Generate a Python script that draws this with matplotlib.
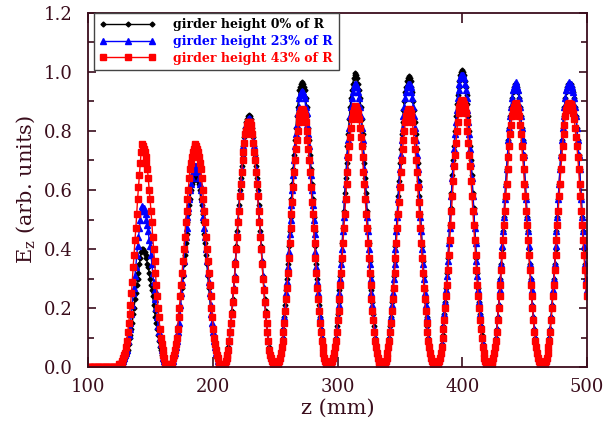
import numpy as np
import matplotlib
matplotlib.use("Agg")
import matplotlib.pyplot as plt
from matplotlib.ticker import MultipleLocator, FormatStrFormatter

# Ez along the structure for three girder heights (fraction of R)
ez_0pct = [
    0.0, 0.0, 0.0, 0.0, 0.0, 0.0, 0.0, 0.0, 0.0, 0.0, 0.0, 0.0, 0.0, 0.0, 0.0, 0.0,
    0.0, 0.0, 0.0, 0.0, 0.0, 0.0, 0.0, 0.0, 0.0, 0.0, 0.0, 0.0, 0.0, 0.0, 0.0, 0.0,
    # cell 1
    0.00, 0.00, 0.01, 0.01, 0.01, 0.01, 0.01, 0.02, 0.02, 0.03, 0.04, 0.05, 0.06, 0.08, 0.10, 0.11, 0.13, 0.15, 0.18, 0.20, 0.23, 0.25, 0.28, 0.30, 0.32, 0.35, 0.37, 0.39, 0.40,
    0.40, 0.39, 0.39, 0.38, 0.37, 0.35, 0.34, 0.32, 0.30, 0.28, 0.26, 0.24, 0.21, 0.19, 0.17, 0.15, 0.13, 0.11, 0.09, 0.07, 0.06, 0.04, 0.03, 0.02, 0.01, 0.01, 0.00, 0.00, 0.00, 0.00,
    # cell 2
    0.00, 0.00, 0.01, 0.01, 0.02, 0.03, 0.05, 0.07, 0.09, 0.11, 0.14, 0.17, 0.20, 0.24, 0.27, 0.31, 0.35, 0.38, 0.42, 0.45, 0.49, 0.52, 0.55, 0.57, 0.60, 0.62, 0.63, 0.64, 0.65, 0.65,
    0.65, 0.64, 0.63, 0.62, 0.60, 0.57, 0.55, 0.52, 0.49, 0.45, 0.42, 0.38, 0.35, 0.31, 0.27, 0.24, 0.20, 0.17, 0.14, 0.11, 0.09, 0.07, 0.05, 0.03, 0.02, 0.01, 0.01, 0.00, 0.00, 0.00,
    # cell 3
    0.00, 0.00, 0.01, 0.02, 0.03, 0.05, 0.07, 0.09, 0.12, 0.15, 0.19, 0.23, 0.27, 0.31, 0.36, 0.41, 0.46, 0.50, 0.55, 0.60, 0.64, 0.68, 0.72, 0.75, 0.78, 0.81, 0.83, 0.84, 0.85, 0.855,
    0.85, 0.84, 0.83, 0.81, 0.78, 0.75, 0.72, 0.68, 0.64, 0.60, 0.55, 0.50, 0.46, 0.41, 0.36, 0.31, 0.27, 0.23, 0.19, 0.15, 0.12, 0.09, 0.07, 0.05, 0.03, 0.02, 0.01, 0.00, 0.00, 0.00,
    # cell 4
    0.00, 0.00, 0.01, 0.02, 0.03, 0.05, 0.07, 0.10, 0.13, 0.17, 0.21, 0.26, 0.30, 0.35, 0.41, 0.46, 0.51, 0.57, 0.62, 0.67, 0.72, 0.77, 0.81, 0.85, 0.88, 0.91, 0.94, 0.95, 0.96, 0.965,
    0.96, 0.95, 0.94, 0.91, 0.88, 0.85, 0.81, 0.77, 0.72, 0.67, 0.62, 0.57, 0.51, 0.46, 0.41, 0.35, 0.30, 0.26, 0.21, 0.17, 0.13, 0.10, 0.07, 0.05, 0.03, 0.02, 0.01, 0.00, 0.00, 0.00,
    # cell 5
    0.00, 0.00, 0.01, 0.02, 0.03, 0.05, 0.08, 0.10, 0.14, 0.18, 0.22, 0.26, 0.31, 0.36, 0.42, 0.47, 0.53, 0.59, 0.64, 0.69, 0.75, 0.79, 0.84, 0.88, 0.91, 0.94, 0.96, 0.98, 0.99, 0.995,
    0.99, 0.98, 0.96, 0.94, 0.91, 0.88, 0.84, 0.79, 0.75, 0.69, 0.64, 0.59, 0.53, 0.47, 0.42, 0.36, 0.31, 0.26, 0.22, 0.18, 0.14, 0.10, 0.08, 0.05, 0.03, 0.02, 0.01, 0.00, 0.00, 0.00,
    # cell 6
    0.00, 0.00, 0.01, 0.02, 0.03, 0.05, 0.08, 0.10, 0.14, 0.17, 0.22, 0.26, 0.31, 0.36, 0.41, 0.47, 0.52, 0.58, 0.63, 0.69, 0.74, 0.79, 0.83, 0.87, 0.90, 0.93, 0.95, 0.97, 0.98, 0.985,
    0.98, 0.97, 0.95, 0.93, 0.90, 0.87, 0.83, 0.79, 0.74, 0.69, 0.63, 0.58, 0.52, 0.47, 0.41, 0.36, 0.31, 0.26, 0.22, 0.17, 0.14, 0.10, 0.08, 0.05, 0.03, 0.02, 0.01, 0.00, 0.00, 0.00,
    # cell 7
    0.00, 0.00, 0.01, 0.02, 0.03, 0.05, 0.08, 0.11, 0.14, 0.18, 0.22, 0.27, 0.32, 0.37, 0.42, 0.48, 0.54, 0.59, 0.65, 0.70, 0.75, 0.80, 0.85, 0.89, 0.92, 0.95, 0.97, 0.99, 1.00, 1.005,
    1.00, 0.99, 0.97, 0.95, 0.92, 0.89, 0.85, 0.80, 0.75, 0.70, 0.65, 0.59, 0.54, 0.48, 0.42, 0.37, 0.32, 0.27, 0.22, 0.18, 0.14, 0.11, 0.08, 0.05, 0.03, 0.02, 0.01, 0.00, 0.00, 0.00,
    # cell 8
    0.00, 0.00, 0.01, 0.02, 0.03, 0.05, 0.07, 0.10, 0.13, 0.17, 0.21, 0.25, 0.30, 0.35, 0.40, 0.46, 0.51, 0.57, 0.62, 0.67, 0.72, 0.77, 0.81, 0.85, 0.88, 0.91, 0.93, 0.95, 0.96, 0.96,
    0.96, 0.95, 0.93, 0.91, 0.88, 0.85, 0.81, 0.77, 0.72, 0.67, 0.62, 0.57, 0.51, 0.46, 0.40, 0.35, 0.30, 0.25, 0.21, 0.17, 0.13, 0.10, 0.07, 0.05, 0.03, 0.02, 0.01, 0.00, 0.00, 0.00,
    # cell 9 (cut at z = 500)
    0.00, 0.00, 0.01, 0.02, 0.03, 0.05, 0.07, 0.10, 0.13, 0.17, 0.21, 0.25, 0.30, 0.35, 0.40, 0.46, 0.51, 0.57, 0.62, 0.67, 0.72, 0.77, 0.81, 0.85, 0.88, 0.91, 0.93, 0.95, 0.96, 0.96,
    0.96, 0.96, 0.95, 0.94, 0.93, 0.91, 0.88, 0.85, 0.81, 0.77, 0.72, 0.67, 0.62, 0.57, 0.51, 0.46, 0.40, 0.35, 0.30, 0.25,
]

ez_23pct = [
    0.0, 0.0, 0.0, 0.0, 0.0, 0.0, 0.0, 0.0, 0.0, 0.0, 0.0, 0.0, 0.0, 0.0, 0.0, 0.0,
    0.0, 0.0, 0.0, 0.0, 0.0, 0.0, 0.0, 0.0, 0.0, 0.0, 0.0, 0.0, 0.0, 0.0, 0.0, 0.0,
    # cell 1
    0.00, 0.00, 0.01, 0.01, 0.01, 0.01, 0.01, 0.02, 0.03, 0.04, 0.05, 0.06, 0.09, 0.11, 0.13, 0.15, 0.18, 0.21, 0.25, 0.27, 0.31, 0.34, 0.38, 0.41, 0.44, 0.47, 0.50, 0.53, 0.545,
    0.54, 0.54, 0.53, 0.52, 0.50, 0.48, 0.46, 0.43, 0.41, 0.38, 0.35, 0.32, 0.29, 0.26, 0.23, 0.20, 0.17, 0.14, 0.12, 0.10, 0.08, 0.06, 0.04, 0.03, 0.02, 0.01, 0.01, 0.00, 0.00, 0.00,
    # cell 2
    0.00, 0.00, 0.01, 0.01, 0.02, 0.04, 0.05, 0.07, 0.09, 0.12, 0.15, 0.18, 0.21, 0.25, 0.29, 0.32, 0.36, 0.40, 0.44, 0.47, 0.51, 0.54, 0.57, 0.60, 0.62, 0.64, 0.66, 0.67, 0.68, 0.68,
    0.68, 0.67, 0.66, 0.64, 0.62, 0.60, 0.57, 0.54, 0.51, 0.47, 0.44, 0.40, 0.36, 0.32, 0.29, 0.25, 0.21, 0.18, 0.15, 0.12, 0.09, 0.07, 0.05, 0.04, 0.02, 0.01, 0.01, 0.00, 0.00, 0.00,
    # cell 3
    0.00, 0.00, 0.01, 0.02, 0.03, 0.04, 0.06, 0.09, 0.12, 0.15, 0.18, 0.22, 0.27, 0.31, 0.36, 0.40, 0.45, 0.50, 0.54, 0.59, 0.63, 0.67, 0.71, 0.75, 0.77, 0.80, 0.82, 0.83, 0.84, 0.845,
    0.84, 0.83, 0.82, 0.80, 0.77, 0.75, 0.71, 0.67, 0.63, 0.59, 0.54, 0.50, 0.45, 0.40, 0.36, 0.31, 0.27, 0.22, 0.18, 0.15, 0.12, 0.09, 0.06, 0.04, 0.03, 0.02, 0.01, 0.00, 0.00, 0.00,
    # cell 4
    0.00, 0.00, 0.01, 0.02, 0.03, 0.05, 0.07, 0.10, 0.13, 0.17, 0.20, 0.25, 0.29, 0.34, 0.39, 0.45, 0.50, 0.55, 0.60, 0.65, 0.70, 0.75, 0.79, 0.82, 0.86, 0.88, 0.91, 0.92, 0.93, 0.935,
    0.93, 0.92, 0.91, 0.88, 0.86, 0.82, 0.79, 0.75, 0.70, 0.65, 0.60, 0.55, 0.50, 0.45, 0.39, 0.34, 0.29, 0.25, 0.20, 0.17, 0.13, 0.10, 0.07, 0.05, 0.03, 0.02, 0.01, 0.00, 0.00, 0.00,
    # cell 5
    0.00, 0.00, 0.01, 0.02, 0.03, 0.05, 0.07, 0.10, 0.13, 0.17, 0.21, 0.25, 0.30, 0.35, 0.40, 0.46, 0.51, 0.57, 0.62, 0.67, 0.72, 0.77, 0.81, 0.85, 0.88, 0.91, 0.93, 0.95, 0.96, 0.96,
    0.96, 0.95, 0.93, 0.91, 0.88, 0.85, 0.81, 0.77, 0.72, 0.67, 0.62, 0.57, 0.51, 0.46, 0.40, 0.35, 0.30, 0.25, 0.21, 0.17, 0.13, 0.10, 0.07, 0.05, 0.03, 0.02, 0.01, 0.00, 0.00, 0.00,
    # cell 6
    0.00, 0.00, 0.01, 0.02, 0.03, 0.05, 0.07, 0.10, 0.13, 0.17, 0.21, 0.25, 0.30, 0.35, 0.40, 0.46, 0.51, 0.57, 0.62, 0.67, 0.72, 0.77, 0.81, 0.85, 0.88, 0.91, 0.93, 0.95, 0.96, 0.96,
    0.96, 0.95, 0.93, 0.91, 0.88, 0.85, 0.81, 0.77, 0.72, 0.67, 0.62, 0.57, 0.51, 0.46, 0.40, 0.35, 0.30, 0.25, 0.21, 0.17, 0.13, 0.10, 0.07, 0.05, 0.03, 0.02, 0.01, 0.00, 0.00, 0.00,
    # cell 7
    0.00, 0.00, 0.01, 0.02, 0.03, 0.05, 0.08, 0.10, 0.14, 0.18, 0.22, 0.26, 0.31, 0.36, 0.42, 0.47, 0.53, 0.58, 0.64, 0.69, 0.74, 0.79, 0.83, 0.87, 0.91, 0.94, 0.96, 0.98, 0.99, 0.99,
    0.99, 0.98, 0.96, 0.94, 0.91, 0.87, 0.83, 0.79, 0.74, 0.69, 0.64, 0.58, 0.53, 0.47, 0.42, 0.36, 0.31, 0.26, 0.22, 0.18, 0.14, 0.10, 0.08, 0.05, 0.03, 0.02, 0.01, 0.00, 0.00, 0.00,
    # cell 8
    0.00, 0.00, 0.01, 0.02, 0.03, 0.05, 0.07, 0.10, 0.13, 0.17, 0.21, 0.26, 0.30, 0.35, 0.41, 0.46, 0.51, 0.57, 0.62, 0.67, 0.72, 0.77, 0.81, 0.85, 0.88, 0.91, 0.94, 0.95, 0.96, 0.965,
    0.96, 0.95, 0.94, 0.91, 0.88, 0.85, 0.81, 0.77, 0.72, 0.67, 0.62, 0.57, 0.51, 0.46, 0.41, 0.35, 0.30, 0.26, 0.21, 0.17, 0.13, 0.10, 0.07, 0.05, 0.03, 0.02, 0.01, 0.00, 0.00, 0.00,
    # cell 9 (cut at z = 500)
    0.00, 0.00, 0.01, 0.02, 0.03, 0.05, 0.07, 0.10, 0.13, 0.17, 0.21, 0.26, 0.30, 0.35, 0.41, 0.46, 0.51, 0.57, 0.62, 0.67, 0.72, 0.77, 0.81, 0.85, 0.88, 0.91, 0.94, 0.95, 0.96, 0.965,
    0.96, 0.96, 0.95, 0.94, 0.93, 0.91, 0.88, 0.85, 0.81, 0.77, 0.72, 0.67, 0.62, 0.57, 0.51, 0.46, 0.41, 0.35, 0.30, 0.26,
]

ez_43pct = [
    0.0, 0.0, 0.0, 0.0, 0.0, 0.0, 0.0, 0.0, 0.0, 0.0, 0.0, 0.0, 0.0, 0.0, 0.0, 0.0,
    0.0, 0.0, 0.0, 0.0, 0.0, 0.0, 0.0, 0.0, 0.0, 0.0, 0.0, 0.0, 0.0, 0.0, 0.0, 0.0,
    # cell 1
    0.00, 0.00, 0.01, 0.01, 0.01, 0.01, 0.02, 0.03, 0.04, 0.05, 0.07, 0.09, 0.12, 0.15, 0.18, 0.21, 0.25, 0.29, 0.34, 0.38, 0.43, 0.47, 0.52, 0.57, 0.61, 0.65, 0.69, 0.73, 0.755,
    0.75, 0.74, 0.73, 0.71, 0.69, 0.67, 0.64, 0.60, 0.57, 0.53, 0.49, 0.44, 0.40, 0.36, 0.32, 0.28, 0.24, 0.20, 0.17, 0.13, 0.10, 0.08, 0.06, 0.04, 0.03, 0.01, 0.01, 0.00, 0.00, 0.00,
    # cell 2
    0.00, 0.00, 0.01, 0.01, 0.03, 0.04, 0.06, 0.08, 0.10, 0.13, 0.17, 0.20, 0.24, 0.28, 0.32, 0.36, 0.40, 0.44, 0.49, 0.53, 0.57, 0.60, 0.64, 0.67, 0.69, 0.71, 0.73, 0.74, 0.75, 0.755,
    0.75, 0.74, 0.73, 0.71, 0.69, 0.67, 0.64, 0.60, 0.57, 0.53, 0.49, 0.44, 0.40, 0.36, 0.32, 0.28, 0.24, 0.20, 0.17, 0.13, 0.10, 0.08, 0.06, 0.04, 0.03, 0.01, 0.01, 0.00, 0.00, 0.00,
    # cell 3
    0.00, 0.00, 0.01, 0.02, 0.03, 0.04, 0.06, 0.09, 0.12, 0.15, 0.18, 0.22, 0.26, 0.30, 0.35, 0.40, 0.44, 0.49, 0.53, 0.58, 0.62, 0.66, 0.70, 0.73, 0.76, 0.79, 0.80, 0.82, 0.83, 0.83,
    0.83, 0.82, 0.80, 0.79, 0.76, 0.73, 0.70, 0.66, 0.62, 0.58, 0.53, 0.49, 0.44, 0.40, 0.35, 0.30, 0.26, 0.22, 0.18, 0.15, 0.12, 0.09, 0.06, 0.04, 0.03, 0.02, 0.01, 0.00, 0.00, 0.00,
    # cell 4
    0.00, 0.00, 0.01, 0.02, 0.03, 0.05, 0.07, 0.09, 0.12, 0.15, 0.19, 0.23, 0.27, 0.32, 0.37, 0.42, 0.47, 0.52, 0.56, 0.61, 0.66, 0.70, 0.74, 0.77, 0.80, 0.83, 0.85, 0.86, 0.87, 0.875,
    0.87, 0.86, 0.85, 0.83, 0.80, 0.77, 0.74, 0.70, 0.66, 0.61, 0.56, 0.52, 0.47, 0.42, 0.37, 0.32, 0.27, 0.23, 0.19, 0.15, 0.12, 0.09, 0.07, 0.05, 0.03, 0.02, 0.01, 0.00, 0.00, 0.00,
    # cell 5
    0.00, 0.00, 0.01, 0.02, 0.03, 0.05, 0.07, 0.09, 0.12, 0.16, 0.19, 0.23, 0.28, 0.32, 0.37, 0.42, 0.47, 0.52, 0.57, 0.62, 0.66, 0.71, 0.75, 0.78, 0.81, 0.84, 0.86, 0.87, 0.88, 0.885,
    0.88, 0.87, 0.86, 0.84, 0.81, 0.78, 0.75, 0.71, 0.66, 0.62, 0.57, 0.52, 0.47, 0.42, 0.37, 0.32, 0.28, 0.23, 0.19, 0.16, 0.12, 0.09, 0.07, 0.05, 0.03, 0.02, 0.01, 0.00, 0.00, 0.00,
    # cell 6
    0.00, 0.00, 0.01, 0.02, 0.03, 0.05, 0.07, 0.09, 0.12, 0.15, 0.19, 0.23, 0.27, 0.32, 0.37, 0.42, 0.47, 0.52, 0.56, 0.61, 0.66, 0.70, 0.74, 0.77, 0.80, 0.83, 0.85, 0.86, 0.87, 0.875,
    0.87, 0.86, 0.85, 0.83, 0.80, 0.77, 0.74, 0.70, 0.66, 0.61, 0.56, 0.52, 0.47, 0.42, 0.37, 0.32, 0.27, 0.23, 0.19, 0.15, 0.12, 0.09, 0.07, 0.05, 0.03, 0.02, 0.01, 0.00, 0.00, 0.00,
    # cell 7
    0.00, 0.00, 0.01, 0.02, 0.03, 0.05, 0.07, 0.10, 0.13, 0.16, 0.20, 0.24, 0.28, 0.33, 0.38, 0.43, 0.48, 0.53, 0.58, 0.63, 0.68, 0.72, 0.76, 0.80, 0.83, 0.86, 0.88, 0.89, 0.90, 0.905,
    0.90, 0.89, 0.88, 0.86, 0.83, 0.80, 0.76, 0.72, 0.68, 0.63, 0.58, 0.53, 0.48, 0.43, 0.38, 0.33, 0.28, 0.24, 0.20, 0.16, 0.13, 0.10, 0.07, 0.05, 0.03, 0.02, 0.01, 0.00, 0.00, 0.00,
    # cell 8
    0.00, 0.00, 0.01, 0.02, 0.03, 0.05, 0.07, 0.09, 0.12, 0.16, 0.20, 0.24, 0.28, 0.33, 0.38, 0.43, 0.48, 0.53, 0.58, 0.62, 0.67, 0.71, 0.75, 0.79, 0.82, 0.85, 0.87, 0.88, 0.89, 0.895,
    0.89, 0.88, 0.87, 0.85, 0.82, 0.79, 0.75, 0.71, 0.67, 0.62, 0.58, 0.53, 0.48, 0.43, 0.38, 0.33, 0.28, 0.24, 0.20, 0.16, 0.12, 0.09, 0.07, 0.05, 0.03, 0.02, 0.01, 0.00, 0.00, 0.00,
    # cell 9 (cut at z = 500)
    0.00, 0.00, 0.01, 0.02, 0.03, 0.05, 0.07, 0.09, 0.12, 0.16, 0.20, 0.24, 0.28, 0.33, 0.38, 0.43, 0.48, 0.53, 0.58, 0.62, 0.67, 0.71, 0.75, 0.79, 0.82, 0.85, 0.87, 0.88, 0.89, 0.895,
    0.89, 0.89, 0.88, 0.87, 0.86, 0.84, 0.81, 0.78, 0.75, 0.71, 0.67, 0.62, 0.58, 0.53, 0.48, 0.43, 0.38, 0.33, 0.28, 0.24,
]

labels = ["girder height 0% of R", "girder height 23% of R", "girder height 43% of R"]
colors = ["#000000", "#0000ff", "#ff0000"]
markers = ["D", "^", "s"]
msizes = [2.5, 4.0, 4.2]

# sample positions along z (mm), 60 points per cell
z = np.linspace(100.56, 499.65, len(ez_0pct))

ink = "#3a0d1c"
plt.rcParams["font.family"] = "DejaVu Serif"

fig = plt.figure(figsize=(6.04, 4.25), dpi=100)
ax = fig.add_axes([0.1457, 0.1358, 0.8263, 0.8343])

for ez, lab, c, m, ms in zip([ez_0pct, ez_23pct, ez_43pct], labels, colors, markers, msizes):
    ax.plot(z[:len(ez)], ez, color=c, lw=1.0, marker=m, ms=ms, mec=c, mfc=c, label=lab)

ax.set_xlim(100, 500)
ax.set_ylim(0, 1.2)
ax.xaxis.set_major_locator(MultipleLocator(100))
ax.yaxis.set_major_locator(MultipleLocator(0.2))
ax.yaxis.set_minor_locator(MultipleLocator(0.1))
ax.yaxis.set_major_formatter(FormatStrFormatter("%.1f"))

ax.tick_params(axis="both", which="both", direction="in", top=True, right=True,
               colors=ink, labelcolor=ink, labelsize=13, width=1.2)
ax.tick_params(axis="x", which="major", length=7.5, pad=8)
ax.tick_params(axis="y", which="major", length=6, pad=11)
ax.tick_params(axis="y", which="minor", length=4.5)
for sp in ax.spines.values():
    sp.set_color(ink)
    sp.set_linewidth(1.3)

ax.set_xlabel("z (mm)", fontsize=15, color=ink, labelpad=2)
ax.set_ylabel(r"E$_\mathregular{z}$ (arb. units)", fontsize=15, color=ink, labelpad=4)

leg = ax.legend(loc="upper left", bbox_to_anchor=(0.012, 1.0), borderaxespad=0,
                numpoints=3, handlelength=4.5, handletextpad=1.4, fancybox=False,
                framealpha=1, edgecolor="#444444", borderpad=0.45, labelspacing=0.3,
                prop={"family": "DejaVu Serif", "weight": "bold", "size": 9})
leg.get_frame().set_linewidth(1.0)
for t, c in zip(leg.get_texts(), colors):
    t.set_color(c)

fig.savefig("out.png", dpi=100)
